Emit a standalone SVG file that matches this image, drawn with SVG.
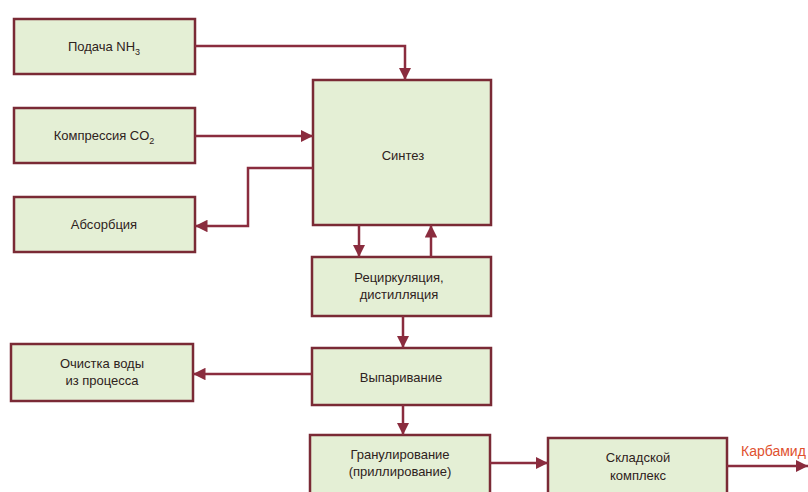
<svg xmlns="http://www.w3.org/2000/svg" width="808" height="492" viewBox="0 0 808 492">
<style>
.box{fill:#e4efd5;stroke:#7a2a35;stroke-width:2.5}
.t{font-family:"Liberation Sans",Arial,sans-serif;font-size:13px;fill:#2e2220;text-anchor:middle}
.c{fill:none;stroke:#8a2c3e;stroke-width:2.5}
</style>
<defs>
<marker id="ah" viewBox="0 0 10 10" refX="10" refY="5" markerWidth="5" markerHeight="5" orient="auto" markerUnits="strokeWidth">
<path d="M0,0 L10,5 L0,10 z" fill="#8a2c3e"/>
</marker>
</defs>
<rect width="808" height="492" fill="#ffffff"/>
<g id="nh3"><rect class="box" x="14" y="19" width="181" height="55"/><text class="t" x="104" y="51">Подача NH<tspan font-size="9" dy="4">3</tspan></text></g>
<g id="co2"><rect class="box" x="14" y="108" width="181" height="55"/><text class="t" x="104" y="140">Компрессия CO<tspan font-size="9" dy="4">2</tspan></text></g>
<g id="absorb"><rect class="box" x="14" y="197" width="181" height="55"/><text class="t" x="104" y="229">Абсорбция</text></g>
<g id="synth"><rect class="box" x="313" y="80" width="178" height="145"/><text class="t" x="403" y="160">Синтез</text></g>
<g id="recirc"><rect class="box" x="312" y="257" width="179" height="59"/><text class="t" x="399" y="282">Рециркуляция,</text><text class="t" x="399" y="299">дистилляция</text></g>
<g id="evap"><rect class="box" x="312" y="348" width="179" height="57"/><text class="t" x="401" y="382">Выпаривание</text></g>
<g id="water"><rect class="box" x="11" y="344" width="182" height="57"/><text class="t" x="102" y="368">Очистка воды</text><text class="t" x="102" y="385">из процесса</text></g>
<g id="gran"><rect class="box" x="310" y="435" width="180" height="62"/><text class="t" x="400" y="459">Гранулирование</text><text class="t" x="400" y="476">(приллирование)</text></g>
<g id="store"><rect class="box" x="548" y="438" width="179" height="59"/><text class="t" x="638" y="462">Складской</text><text class="t" x="638" y="480">комплекс</text></g>
<g id="connectors">
<path class="c" d="M195,46 H405 V80" marker-end="url(#ah)"/>
<path class="c" d="M195,136 H313" marker-end="url(#ah)"/>
<path class="c" d="M313,168 H248 V226 H195" marker-end="url(#ah)"/>
<path class="c" d="M359,225 V257" marker-end="url(#ah)"/>
<path class="c" d="M431,257 V225" marker-end="url(#ah)"/>
<path class="c" d="M403,316 V348" marker-end="url(#ah)"/>
<path class="c" d="M312,374 H193" marker-end="url(#ah)"/>
<path class="c" d="M403,405 V435" marker-end="url(#ah)"/>
<path class="c" d="M490,463 H548" marker-end="url(#ah)"/>
<path class="c" d="M727,466 H808" marker-end="url(#ah)"/>
<text x="741" y="456" font-family="Liberation Sans,Arial,sans-serif" font-size="14" fill="#e0502e">Карбамид</text>
</g>
</svg>
